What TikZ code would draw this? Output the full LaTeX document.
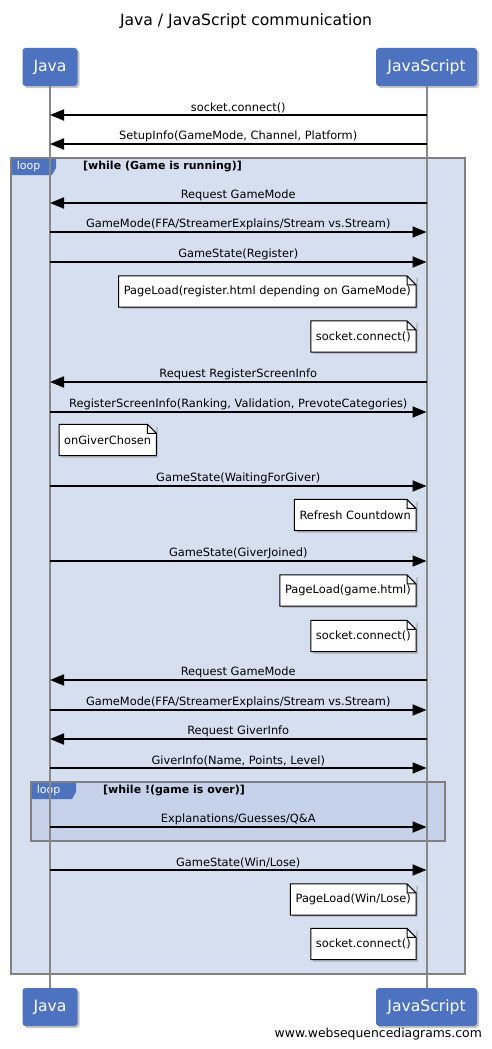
\documentclass[tikz,border=0pt]{standalone}
\usepackage{fontspec}
\setmainfont{DejaVu Sans}
\usetikzlibrary{arrows.meta,shadows}
\usepackage{xcolor}
\definecolor{actorblue}{RGB}{77,114,192}
\definecolor{loopblue}{RGB}{214,223,240}
\definecolor{innerblue}{RGB}{197,210,234}
\definecolor{framegrey}{RGB}{128,128,128}
\definecolor{lifegrey}{RGB}{136,136,136}

\tikzset{
    actor/.style={fill=actorblue, rounded corners=3pt, text=white, minimum height=38pt,
        font=\fontsize{15.6}{18}\selectfont,
        drop shadow={shadow xshift=2pt, shadow yshift=-2pt, opacity=0.45}},
    lifeline/.style={lifegrey, line width=2pt},
    msg/.style={line width=1.8pt, -{Triangle[length=14pt,width=11pt]}},
    msglabel/.style={above=1.5pt, inner sep=0pt, font=\fontsize{11.4}{13}\selectfont},
    note/.style={fill=white, minimum height=31pt, inner xsep=5pt, font=\fontsize{11.4}{13}\selectfont,
        drop shadow={shadow xshift=2pt, shadow yshift=-2pt, opacity=0.35}},
    frame/.style={draw=framegrey, line width=2pt},
    looptab/.style={text=white, inner sep=0pt, font=\fontsize{11}{13}\selectfont},
    cond/.style={anchor=west, inner sep=0pt, font=\bfseries\fontsize{11}{13}\selectfont}
}

\begin{document}
\begin{tikzpicture}[x=1pt, y=-1pt]
    \useasboundingbox (0,0) rectangle (491,1049);
    \node[font=\fontsize{15.6}{18}\selectfont] (title) at (246,21) {Java / JavaScript communication};

    % loop frames
    \draw[frame, fill=loopblue] (11,158) rectangle (465,974);
    \draw[frame, fill=innerblue] (31,782) rectangle (445,841);
    \foreach \i/\x/\y/\cnd in {1/11/158/{[while (Game is running)]}, 2/31/782/{[while !(game is over)]}}{
        \fill[actorblue] (\x+1,\y+1) -- ++(44,0) -- ++(0,9) -- ++(-4,7) -- ++(-40,0) -- cycle;
        \node[looptab] (tab\i) at (\x+17.5,\y+8.5) {loop};
        \node[cond] (cond\i) at (\x+72,\y+8.5) {\cnd};
    }

    % actors and lifelines
    \foreach \n/\x/\w/\txt in {java/50/55/Java, js/426.5/101/JavaScript}{
        \node[actor, minimum width=\w pt] (\n top) at (\x,67) {\txt};
        \node[actor, minimum width=\w pt] (\n bot) at (\x,1007) {\txt};
        \draw[lifeline] (\n top) -- (\n bot);
    }

    % messages
    \foreach \i/\y/\a/\b/\txt in {
        1/115/js/java/{socket.connect()},
        2/144/js/java/{SetupInfo(GameMode, Channel, Platform)},
        3/203/js/java/{Request GameMode},
        4/232/java/js/{GameMode(FFA/StreamerExplains/Stream vs.Stream)},
        5/262/java/js/{GameState(Register)},
        6/382/js/java/{Request RegisterScreenInfo},
        7/412/java/js/{RegisterScreenInfo(Ranking, Validation, PrevoteCategories)},
        8/486/java/js/{GameState(WaitingForGiver)},
        9/561/java/js/{GameState(GiverJoined)},
        10/680/js/java/{Request GameMode},
        11/710/java/js/{GameMode(FFA/StreamerExplains/Stream vs.Stream)},
        12/739/js/java/{Request GiverInfo},
        13/768/java/js/{GiverInfo(Name, Points, Level)},
        14/827/java/js/{Explanations/Guesses/Q\&A},
        15/870/java/js/{GameState(Win/Lose)}}{
        \coordinate (java\i) at (javatop |- 0,\y);
        \coordinate (js\i) at (jstop |- 0,\y);
        \draw[msg] (\a\i) -- node[msglabel] {\txt} (\b\i);
    }

    % notes
    \foreach \n/\anc/\x/\y/\txt in {
        1/east/416/291.5/{PageLoad(register.html depending on GameMode)},
        2/east/416/336.5/{socket.connect()},
        3/west/59/440/{onGiverChosen},
        4/east/416/515/{Refresh Countdown},
        5/east/416/590.5/{PageLoad(game.html)},
        6/east/416/636/{socket.connect()},
        7/east/416/899.5/{PageLoad(Win/Lose)},
        8/east/416/944/{socket.connect()}}{
        \node[note, anchor=\anc] (note\n) at (\x,\y) {\txt};
        \fill[loopblue] ([xshift=-9pt]note\n.north east) -- (note\n.north east) -- ([yshift=-9pt]note\n.north east) -- cycle;
        \draw[line width=1pt] (note\n.south west) -- (note\n.north west) -- ([xshift=-9pt]note\n.north east)
            -- ([yshift=-9pt]note\n.north east) -- (note\n.south east) -- cycle
            ([xshift=-9pt]note\n.north east) |- ([yshift=-9pt]note\n.north east);
    }

    \node[anchor=east, inner sep=0pt, font=\fontsize{12.4}{14}\selectfont] (footer) at (482,1034) {www.websequencediagrams.com};
\end{tikzpicture}
\end{document}
